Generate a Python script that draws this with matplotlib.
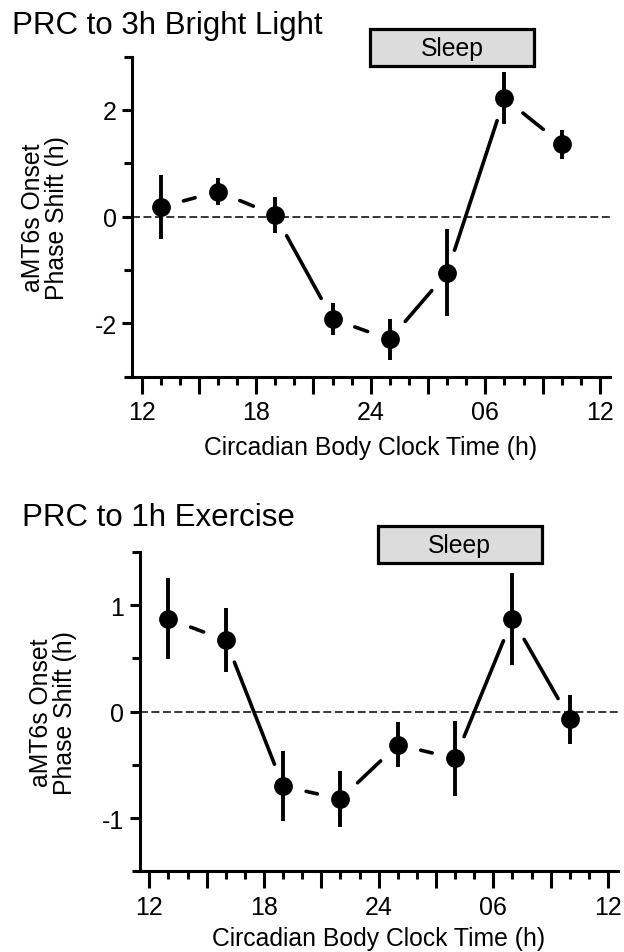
import matplotlib
matplotlib.use('Agg')
import matplotlib.pyplot as plt
from matplotlib.patches import Rectangle
from matplotlib.ticker import MultipleLocator, FixedLocator

plt.rcParams['font.family'] = ['Liberation Sans', 'DejaVu Sans']

# circadian time of each stimulus (h, 12..36)
clock_time = [13, 16, 19, 22, 25, 28, 31, 34]

# PRC to 3h bright light
light_shift = [0.18, 0.47, 0.03, -1.92, -2.30, -1.05, 2.22, 1.36]
light_err = [0.60, 0.26, 0.34, 0.30, 0.38, 0.81, 0.49, 0.27]

# PRC to 1h exercise
exer_shift = [0.87, 0.67, -0.70, -0.82, -0.31, -0.44, 0.87, -0.07]
exer_err = [0.38, 0.30, 0.33, 0.26, 0.21, 0.35, 0.43, 0.23]

xtick_vals = [12, 18, 24, 30, 36]
xtick_labels = ['12', '18', '24', '06', '12']

titles = ['PRC to 3h Bright Light', 'PRC to 1h Exercise']
sleep_span = (23.95, 32.55)

fig = plt.figure(figsize=(6.24, 9.53), dpi=100)

panels = [
	# axes rect, data, err, ylim, y step, labelled ticks, sleep box y, title pos, xlabel pad
	([0.2115, 0.6037, 0.7653, 0.3358], light_shift, light_err, (-3, 3), 1, [-2, 0, 2], (2.82, 3.52), (0.019, 0.973), 8),
	([0.2240, 0.0845, 0.7657, 0.3355], exer_shift, exer_err, (-1.5, 1.5), 0.5, [-1, 0, 1], (1.39, 1.74), (0.036, 0.456), 5),
]

for i, (rect, ys, es, ylim, ystep, ylab, sleep_y, tpos, xpad) in enumerate(panels):
	ax = fig.add_axes(rect)
	ax.set_xlim(11.5, 36.5)
	ax.set_ylim(*ylim)
	for s in ['top', 'right']:
		ax.spines[s].set_visible(False)
	for s in ['left', 'bottom']:
		ax.spines[s].set_linewidth(2.2)
		ax.spines[s].set_capstyle('projecting')

	# zero line
	ax.axhline(0, color='black', lw=1.1, dashes=(5.2, 2.3), zorder=1)

	# connecting segments, shortened at both ends
	for k in range(len(clock_time) - 1):
		ax.annotate('', xy=(clock_time[k+1], ys[k+1]), xytext=(clock_time[k], ys[k]),
			arrowprops=dict(arrowstyle='-', shrinkA=17, shrinkB=17, lw=2.6, color='black'))

	ax.errorbar(clock_time, ys, yerr=es, fmt='o', color='black', ms=12.5, elinewidth=2.8,
		capsize=0, zorder=3)

	# x ticks
	ax.xaxis.set_minor_locator(MultipleLocator(1))
	ax.set_xticks(range(12, 37, 3))
	ax.set_xticklabels([xtick_labels[xtick_vals.index(v)] if v in xtick_vals else '' for v in range(12, 37, 3)])
	ax.tick_params(axis='x', which='major', length=12, width=2.2, labelsize=18, pad=5)
	ax.tick_params(axis='x', which='minor', length=6, width=2.2)

	# y ticks
	ax.set_yticks(ylab)
	ax.set_yticklabels([str(v) for v in ylab])
	yminor = []
	v = ylim[0]
	while v <= ylim[1] + 1e-9:
		if round(v, 3) not in ylab:
			yminor.append(v)
		v += ystep
	ax.yaxis.set_minor_locator(FixedLocator(yminor))
	ax.tick_params(axis='y', which='major', length=7, width=2.2, labelsize=18, pad=4)
	ax.tick_params(axis='y', which='minor', length=6, width=2.2)

	ax.set_xlabel('Circadian Body Clock Time (h)', fontsize=17.8, labelpad=xpad)
	ax.set_ylabel('aMT6s Onset\nPhase Shift (h)', fontsize=17.8, linespacing=1.0)
	ax.yaxis.set_label_coords(-0.132, 0.5)

	# sleep box
	ax.add_patch(Rectangle((sleep_span[0], sleep_y[0]), sleep_span[1] - sleep_span[0], sleep_y[1] - sleep_y[0],
		facecolor='#dcdcdc', edgecolor='black', lw=2.3, clip_on=False, zorder=5))
	ax.text((sleep_span[0] + sleep_span[1]) / 2, (sleep_y[0] + sleep_y[1]) / 2, 'Sleep',
		ha='center', va='center', fontsize=17.8, zorder=6)

	fig.text(tpos[0], tpos[1], titles[i], ha='left', va='center', fontsize=22.5)

fig.savefig('out.png', dpi=100)
